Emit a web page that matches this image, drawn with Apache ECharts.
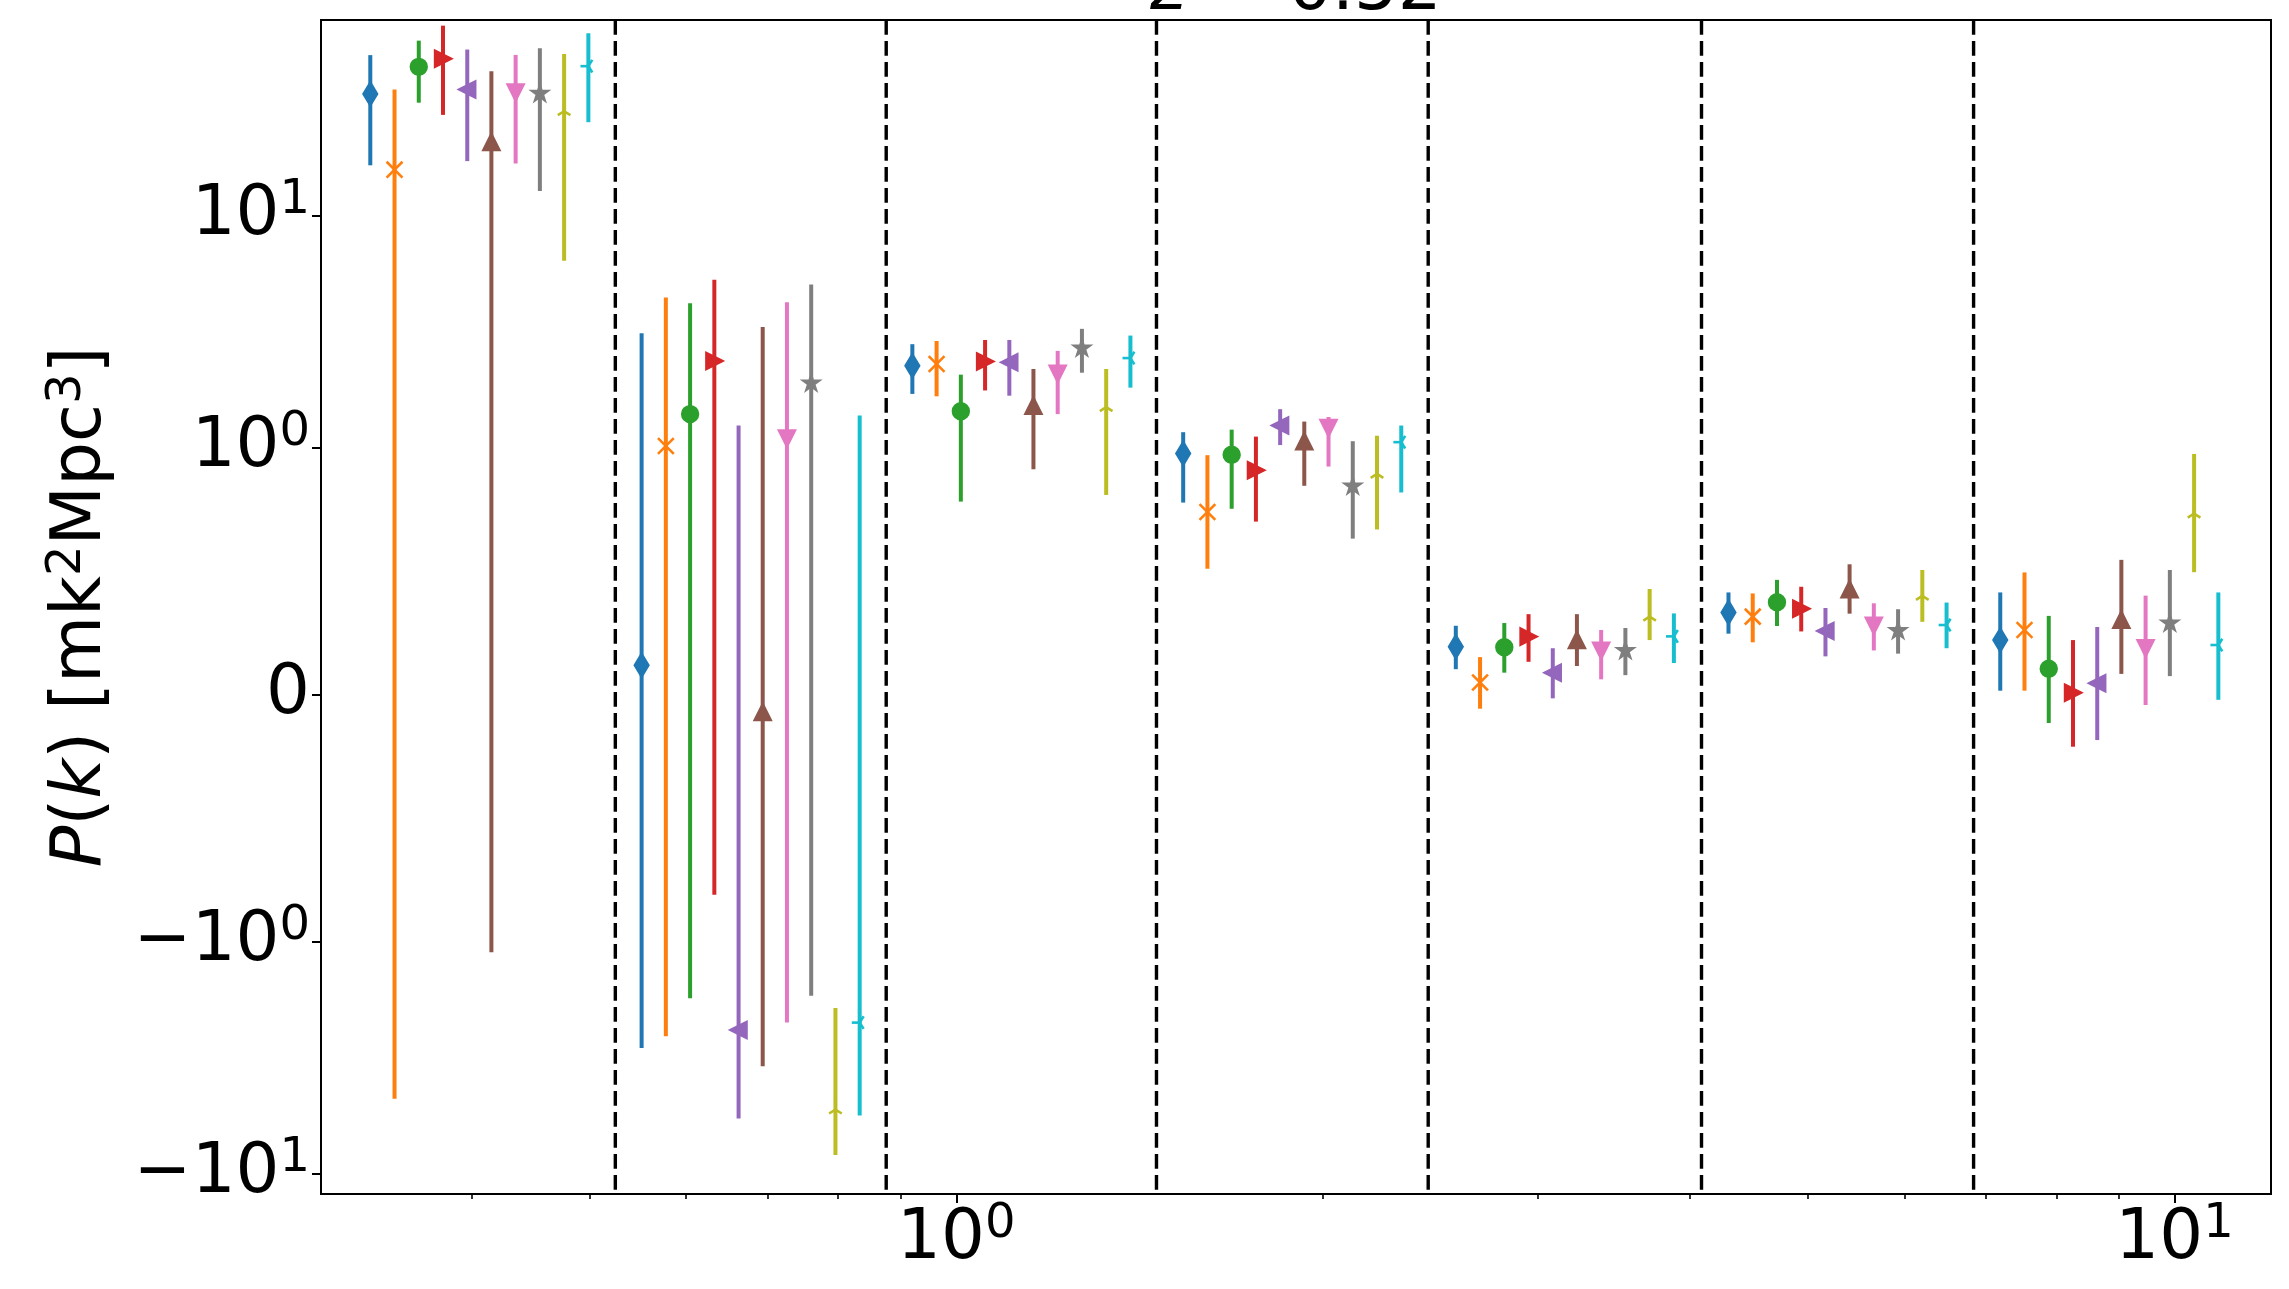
<!DOCTYPE html>
<html><head><meta charset="utf-8">
<script src="https://cdn.jsdelivr.net/npm/echarts@6/dist/echarts.min.js"></script>
<style>html,body{margin:0;padding:0;background:#fff}#c{width:2289px;height:1289px}</style>
</head><body><div id="c"></div>
<script>
// ---------------- data ----------------
const kCenters = [0.406, 0.678, 1.131, 1.887, 3.159, 5.289, 8.84];   // k bin centres
const binEdges = [0.525, 0.876, 1.46, 2.44, 4.09, 6.84];            // dashed bin separators
const logShift = [-0.0895, -0.0696, -0.0497, -0.0298, -0.0099, 0.0099, 0.0298, 0.0497, 0.0696, 0.0895]; // per-series dodge in log10(k)
const xLimits = [0.301, 12.0];
const yLimits = [-12.2, 69.7];
const yTickValues = [-10, -1, 0, 1, 10];
const xTickValues = [1, 10];
const xMinorTicks = [0.4, 0.5, 0.6, 0.7, 0.8, 0.9, 2, 3, 4, 5, 6, 7, 8, 9];
const titleParts = ['z', ' = 0.52'];

// each entry: [P(k), lower, upper] per k bin
const pk_s0 = [[33.5,16.5,49.2],[0.12,-2.87,3.12],[2.26,1.71,2.80],[0.978,0.779,1.17],[0.195,0.104,0.280],[0.334,0.248,0.415],[0.222,0.017,0.415]];
const pk_s1 = [[15.8,-4.74,35.0],[1.02,-2.55,4.45],[2.30,1.67,2.89],[0.741,0.511,0.971],[0.050,-0.056,0.153],[0.317,0.213,0.411],[0.263,0.017,0.496]];
const pk_s2 = [[43.8,30.7,56.8],[1.40,-1.75,4.20],[1.44,0.783,2.07],[0.973,0.754,1.20],[0.193,0.090,0.291],[0.375,0.279,0.466],[0.106,-0.114,0.320]];
const pk_s3 = [[47.5,27.2,65.9],[2.37,-0.81,5.30],[2.36,1.77,2.92],[0.910,0.702,1.12],[0.236,0.134,0.327],[0.349,0.257,0.438],[0.009,-0.210,0.222]];
const pk_s4 = [[35.0,17.2,52.0],[-2.40,-5.77,1.25],[2.34,1.68,2.92],[1.25,1.03,1.47],[0.090,-0.014,0.189],[0.259,0.156,0.352],[0.047,-0.183,0.275]];
const pk_s5 = [[20.8,-1.11,41.9],[-0.07,-3.44,3.32],[1.52,0.914,2.19],[1.07,0.847,1.30],[0.222,0.117,0.327],[0.428,0.329,0.529],[0.304,0.085,0.547]];
const pk_s6 = [[34.0,16.8,49.3],[1.10,-2.23,4.24],[2.09,1.40,2.62],[1.22,0.925,1.36],[0.179,0.063,0.263],[0.280,0.180,0.371],[0.189,-0.041,0.402]];
const pk_s7 = [[33.6,12.8,52.7],[1.90,-1.71,5.06],[2.69,2.11,3.26],[0.845,0.633,1.07],[0.179,0.080,0.271],[0.260,0.167,0.347],[0.290,0.076,0.506]];
const pk_s8 = [[28.2,6.4,49.7],[-5.28,-8.28,-1.93],[1.50,0.81,2.19],[0.895,0.670,1.13],[0.317,0.222,0.429],[0.401,0.296,0.506],[0.734,0.497,0.976]];
const pk_s9 = [[44.1,25.3,61.1],[-2.23,-5.6,1.38],[2.44,1.82,3.05],[1.06,0.820,1.25],[0.237,0.129,0.330],[0.283,0.189,0.374],[0.202,-0.020,0.415]];

// ---------------- style ----------------
const colors = ['#1f77b4','#ff7f0e','#2ca02c','#d62728','#9467bd','#8c564b','#e377c2','#7f7f7f','#bcbd22','#17becf'];
const markers = ['d','x','o','>','<','^','v','*','2','3'];
const LW = 4.0;      // error bar width
const MS = 15.8;     // marker size
const EW = 2.6;      // marker edge width
const FONT = 'DejaVu Sans';
const FS = 69, FSS = 48;

// symlog transform (linthresh = 1)
const LIN = 1.063;
function sym(v){ const a = Math.abs(v); return a <= 1 ? v * LIN : Math.sign(v) * (LIN + Math.log10(a)); }

function markerShapes(kind, cx, cy, c){
  const h = MS / 2;
  const fs = {fill: c, stroke: c, lineWidth: EW, lineJoin: 'miter'};
  const ss = {stroke: c, lineWidth: EW, fill: null, lineCap: 'butt'};
  const ln = (x1,y1,x2,y2) => ({type:'line', shape:{x1,y1,x2,y2}, style: ss});
  switch(kind){
    case 'o': return [{type:'circle', shape:{cx, cy, r:h}, style: fs}];
    case 'd': return [{type:'polygon', shape:{points:[[cx,cy-1.414*h],[cx+0.849*h,cy],[cx,cy+1.414*h],[cx-0.849*h,cy]]}, style: fs}];
    case '^': return [{type:'polygon', shape:{points:[[cx,cy-h],[cx-h,cy+h],[cx+h,cy+h]]}, style: fs}];
    case 'v': return [{type:'polygon', shape:{points:[[cx,cy+h],[cx-h,cy-h],[cx+h,cy-h]]}, style: fs}];
    case '>': return [{type:'polygon', shape:{points:[[cx+h,cy],[cx-h,cy-h],[cx-h,cy+h]]}, style: fs}];
    case '<': return [{type:'polygon', shape:{points:[[cx-h,cy],[cx+h,cy-h],[cx+h,cy+h]]}, style: fs}];
    case 'x': return [ln(cx-h,cy-h,cx+h,cy+h), ln(cx-h,cy+h,cx+h,cy-h)];
    case '*': {
      const pts = [];
      for (let j = 0; j < 10; j++){
        const r = (j % 2 === 0) ? h : h * 0.381966;
        const a = Math.PI/2 + j * Math.PI/5;
        pts.push([cx + r*Math.cos(a), cy - r*Math.sin(a)]);
      }
      return [{type:'polygon', shape:{points: pts}, style: fs}];
    }
    case '2': return [ln(cx,cy,cx,cy-h), ln(cx,cy,cx-0.8*h,cy+0.5*h), ln(cx,cy,cx+0.8*h,cy+0.5*h)];
    case '3': return [ln(cx,cy,cx-h,cy), ln(cx,cy,cx+0.5*h,cy+0.8*h), ln(cx,cy,cx+0.5*h,cy-0.8*h)];
  }
  return [];
}

const allSeries = [pk_s0, pk_s1, pk_s2, pk_s3, pk_s4, pk_s5, pk_s6, pk_s7, pk_s8, pk_s9];
const series = [];

// dashed bin separators
series.push({
  type: 'custom', silent: true, z: 5,
  data: binEdges.map(e => [Math.log10(e)]),
  encode: {x: 0},
  renderItem: function(params, api){
    const cs = params.coordSys;
    const p = api.coord([api.value(0), 0]);
    return {type:'line', shape:{x1:p[0], y1:cs.y, x2:p[0], y2:cs.y + cs.height},
            style:{stroke:'#000', lineWidth:3.4, lineDash:[14.7, 6.3], fill:null}};
  }
});

allSeries.forEach((arr, i) => {
  const c = colors[i], kind = markers[i];
  series.push({
    type: 'custom', silent: true, z: 10 + i, clip: true,
    data: arr.map((t, b) => [Math.log10(kCenters[b]) + logShift[i], sym(t[0]), sym(t[1]), sym(t[2])]),
    encode: {x: 0, y: [1, 2, 3]},
    renderItem: function(params, api){
      const x = api.value(0);
      const pv = api.coord([x, api.value(1)]);
      const plo = api.coord([x, api.value(2)]);
      const phi = api.coord([x, api.value(3)]);
      const children = [{type:'line', shape:{x1:plo[0], y1:plo[1], x2:phi[0], y2:phi[1]}, style:{stroke:c, lineWidth:LW}}];
      return {type:'group', children: children.concat(markerShapes(kind, pv[0], pv[1], c))};
    }
  });
});

const richNum = {
  b: {fontSize: FS, fontFamily: FONT, color: '#000', verticalAlign: 'bottom', lineHeight: FS},
  s: {fontSize: FSS, fontFamily: FONT, color: '#000', verticalAlign: 'bottom', lineHeight: FSS, padding: [0, 0, 26, 0]}
};

function yLabel(v){
  let best = yTickValues[0];
  yTickValues.forEach(t => { if (Math.abs(sym(t) - v) < Math.abs(sym(best) - v)) best = t; });
  if (best === 0) return '{b|0}';
  const e = Math.round(Math.log10(Math.abs(best)));
  return '{b|' + (best < 0 ? '\u2212' : '') + '10}{s|' + e + '}';
}

const chart = echarts.init(document.getElementById('c'), null, {renderer: 'canvas'});
chart.setOption({
  animation: false,
  backgroundColor: '#fff',
  grid: {left: 321, right: 18, top: 20, bottom: 95, show: true, borderColor: '#000', borderWidth: 2, backgroundColor: 'transparent'},
  graphic: [{
    type: 'text', x: 1296, y: 26, z: 100,
    style: {text: '{i|' + titleParts[0] + '}{n|' + titleParts[1] + '}',
      align: 'center', verticalAlign: 'bottom', textAlign: 'center', textVerticalAlign: 'bottom',
      rich: {
        i: {fontSize: FS, fontFamily: FONT, fontStyle: 'italic', fill: '#000', verticalAlign: 'bottom', lineHeight: FS},
        n: {fontSize: FS, fontFamily: FONT, fill: '#000', verticalAlign: 'bottom', lineHeight: FS}
      },
      font: FS + 'px "DejaVu Sans"', fill: '#000'}
  }],
  xAxis: [{
    type: 'value', min: Math.log10(xLimits[0]), max: Math.log10(xLimits[1]),
    axisLine: {show: true, onZero: false, lineStyle: {color: '#000', width: 2}},
    axisTick: {show: true, customValues: xTickValues.map(Math.log10), length: 9, lineStyle: {color: '#000', width: 2}},
    axisLabel: {customValues: xTickValues.map(Math.log10), margin: 12,
      formatter: v => '{b|10}{s|' + Math.round(v) + '}', rich: richNum},
    splitLine: {show: false}
  }, {
    type: 'value', position: 'bottom', min: Math.log10(xLimits[0]), max: Math.log10(xLimits[1]),
    axisLine: {show: false, onZero: false},
    axisTick: {show: true, customValues: xMinorTicks.map(Math.log10), length: 5, lineStyle: {color: '#000', width: 1.6}},
    axisLabel: {show: false}, splitLine: {show: false}
  }],
  yAxis: {
    type: 'value', min: sym(yLimits[0]), max: sym(yLimits[1]),
    axisLine: {show: true, onZero: false, lineStyle: {color: '#000', width: 2}},
    axisTick: {show: true, customValues: yTickValues.map(sym), length: 9, lineStyle: {color: '#000', width: 2}},
    axisLabel: {customValues: yTickValues.map(sym), margin: 11, formatter: yLabel, rich: richNum},
    splitLine: {show: false},
    name: '{i|P}{n|(}{i|k}{n|) [mk}{s|2}{n|Mpc}{s|3}{n|]}',
    nameLocation: 'middle', nameRotate: 90, nameGap: 204,
    nameTextStyle: {rich: {
      i: {fontSize: FS, fontFamily: FONT, fontStyle: 'italic', color: '#000', verticalAlign: 'bottom', lineHeight: FS},
      n: {fontSize: FS, fontFamily: FONT, color: '#000', verticalAlign: 'bottom', lineHeight: FS},
      s: {fontSize: FSS, fontFamily: FONT, color: '#000', verticalAlign: 'bottom', lineHeight: FSS, padding: [0, 0, 25, 0]}
    }}
  },
  series: series
});
</script></body></html>
